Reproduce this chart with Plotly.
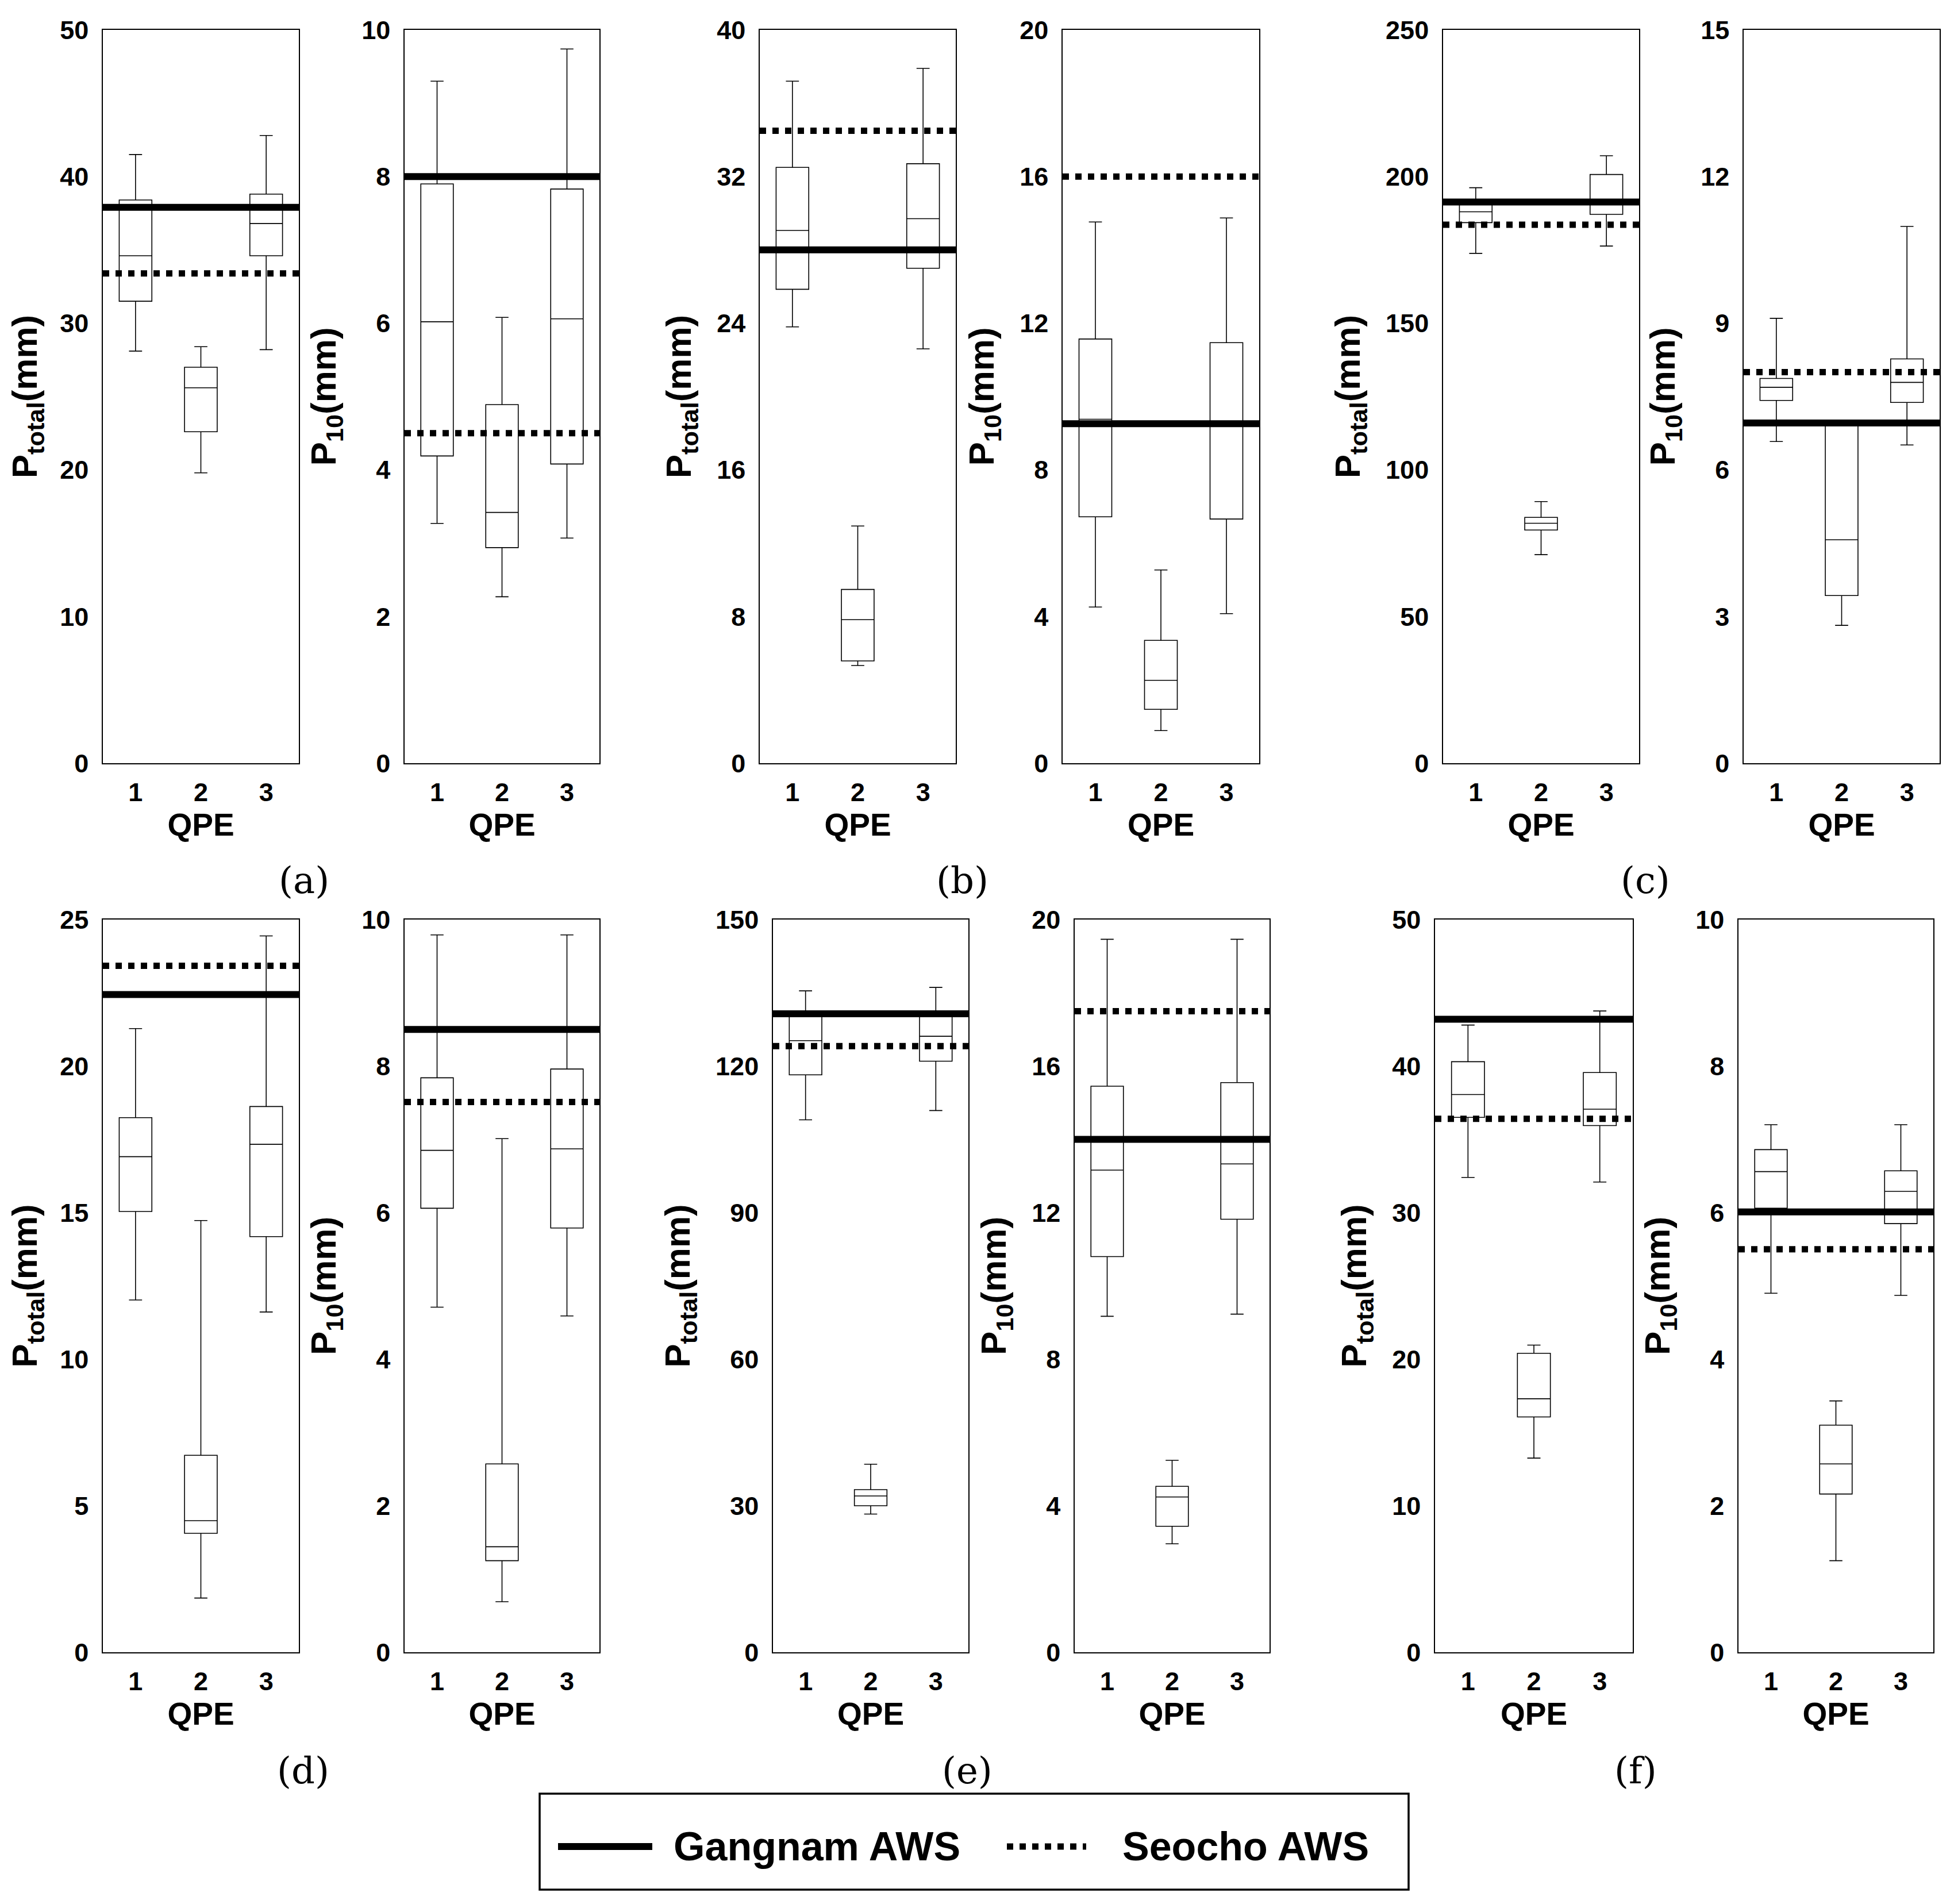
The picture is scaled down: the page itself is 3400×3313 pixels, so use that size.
import plotly.graph_objects as go
from plotly.subplots import make_subplots

qpe = [1, 2, 3]

# (a) P_total and P_10 : lower whisker, q1, median, q3, upper whisker
a_total_lo = [28.1, 19.8, 28.2]
a_total_q1 = [31.5, 22.6, 34.6]
a_total_med = [34.6, 25.6, 36.8]
a_total_q3 = [38.4, 27.0, 38.8]
a_total_hi = [41.5, 28.4, 42.8]

a_p10_lo = [3.27, 2.27, 3.07]
a_p10_q1 = [4.19, 2.94, 4.08]
a_p10_med = [6.02, 3.42, 6.06]
a_p10_q3 = [7.90, 4.89, 7.83]
a_p10_hi = [9.30, 6.08, 9.74]

# (b)
b_total_lo = [23.8, 5.33, 22.6]
b_total_q1 = [25.85, 5.58, 27.0]
b_total_med = [29.06, 7.83, 29.7]
b_total_q3 = [32.5, 9.48, 32.7]
b_total_hi = [37.2, 12.94, 37.9]

b_p10_lo = [4.26, 0.89, 4.08]
b_p10_q1 = [6.72, 1.47, 6.66]
b_p10_med = [9.38, 2.26, 9.3]
b_p10_q3 = [11.57, 3.35, 11.47]
b_p10_hi = [14.76, 5.27, 14.87]

# (c)
c_total_lo = [173.8, 71.1, 176.3]
c_total_q1 = [184.3, 79.5, 187.1]
c_total_med = [188.0, 81.8, 191.0]
c_total_q3 = [190.6, 83.8, 200.7]
c_total_hi = [196.2, 89.2, 207.1]

c_p10_lo = [6.58, 2.82, 6.51]
c_p10_q1 = [7.42, 3.43, 7.38]
c_p10_med = [7.69, 4.57, 7.79]
c_p10_q3 = [7.87, 6.95, 8.27]
c_p10_hi = [9.10, 6.98, 10.98]

# (d)
d_total_lo = [12.02, 1.85, 11.61]
d_total_q1 = [15.04, 4.06, 14.18]
d_total_med = [16.91, 4.49, 17.33]
d_total_q3 = [18.24, 6.72, 18.62]
d_total_hi = [21.28, 14.73, 24.44]

d_p10_lo = [4.71, 0.69, 4.59]
d_p10_q1 = [6.06, 1.25, 5.79]
d_p10_med = [6.85, 1.44, 6.87]
d_p10_q3 = [7.84, 2.57, 7.96]
d_p10_hi = [9.79, 7.01, 9.79]

# (e)
e_total_lo = [109.0, 28.3, 110.9]
e_total_q1 = [118.2, 30.0, 121.0]
e_total_med = [125.2, 32.0, 126.1]
e_total_q3 = [130.2, 33.3, 130.2]
e_total_hi = [135.4, 38.5, 136.1]

e_p10_lo = [9.17, 2.96, 9.23]
e_p10_q1 = [10.8, 3.44, 11.82]
e_p10_med = [13.16, 4.24, 13.33]
e_p10_q3 = [15.45, 4.53, 15.55]
e_p10_hi = [19.46, 5.24, 19.46]

# (f)
f_total_lo = [32.4, 13.25, 32.09]
f_total_q1 = [36.5, 16.06, 35.94]
f_total_med = [38.06, 17.3, 37.06]
f_total_q3 = [40.3, 20.4, 39.56]
f_total_hi = [42.8, 20.96, 43.76]

f_p10_lo = [4.90, 1.25, 4.87]
f_p10_q1 = [6.06, 2.16, 5.85]
f_p10_med = [6.56, 2.57, 6.29]
f_p10_q3 = [6.86, 3.10, 6.57]
f_p10_hi = [7.20, 3.43, 7.20]

# station observations, one per panel (a1, a2, b1, b2, ... f2)
gangnam = [37.9, 8.0, 28.0, 9.26, 191.3, 6.96, 22.44, 8.5, 130.7, 14.0, 43.2, 6.01]
seocho = [33.4, 4.5, 34.5, 16.0, 183.6, 8.0, 23.42, 7.51, 124.1, 17.5, 36.4, 5.5]

y_max = [50, 10, 40, 20, 250, 15, 25, 10, 150, 20, 50, 10]
y_step = [10, 2, 8, 4, 50, 3, 5, 2, 30, 4, 10, 2]
captions = ["(a)", "(b)", "(c)", "(d)", "(e)", "(f)"]

panels = [
    (a_total_lo, a_total_q1, a_total_med, a_total_q3, a_total_hi),
    (a_p10_lo, a_p10_q1, a_p10_med, a_p10_q3, a_p10_hi),
    (b_total_lo, b_total_q1, b_total_med, b_total_q3, b_total_hi),
    (b_p10_lo, b_p10_q1, b_p10_med, b_p10_q3, b_p10_hi),
    (c_total_lo, c_total_q1, c_total_med, c_total_q3, c_total_hi),
    (c_p10_lo, c_p10_q1, c_p10_med, c_p10_q3, c_p10_hi),
    (d_total_lo, d_total_q1, d_total_med, d_total_q3, d_total_hi),
    (d_p10_lo, d_p10_q1, d_p10_med, d_p10_q3, d_p10_hi),
    (e_total_lo, e_total_q1, e_total_med, e_total_q3, e_total_hi),
    (e_p10_lo, e_p10_q1, e_p10_med, e_p10_q3, e_p10_hi),
    (f_total_lo, f_total_q1, f_total_med, f_total_q3, f_total_hi),
    (f_p10_lo, f_p10_q1, f_p10_med, f_p10_q3, f_p10_hi),
]

# page geometry in pixels
W, H = 3400, 3313
OFF = 8  # default body margin of the html page
row_y = [(52, 1328), (1600, 2875)]
col_x = [
    [(179, 520), (704, 1043), (1322, 1663), (1849, 2191), (2511, 2852), (3034, 3375)],
    [(179, 520), (704, 1043), (1345, 1685), (1870, 2209), (2497, 2841), (3025, 3364)],
]
cap_xy = [(529, 1532), (1674, 1532), (2863, 1532), (527, 3081), (1683, 3081), (2846, 3081)]

SANS = "Liberation Sans"
SERIF = "DejaVu Serif"
DOT = "11px,11px"


def px(x):
    return (x - OFF) / W


def py(y):
    return 1 - (y - OFF) / H


fig = make_subplots(rows=2, cols=6)

for k, (lo, q1, med, q3, hi) in enumerate(panels):
    r, c = k // 6 + 1, k % 6 + 1
    fig.add_trace(go.Box(
        x=qpe, lowerfence=lo, q1=q1, median=med, q3=q3, upperfence=hi,
        width=0.5, whiskerwidth=0.4, boxpoints=False,
        line=dict(color="black", width=1.6), fillcolor="white",
        showlegend=False, hoverinfo="skip",
    ), row=r, col=c)
    fig.add_trace(go.Scatter(
        x=[0.5, 3.5], y=[gangnam[k]] * 2, mode="lines",
        line=dict(color="black", width=12), showlegend=False, name="Gangnam AWS",
    ), row=r, col=c)
    fig.add_trace(go.Scatter(
        x=[0.5, 3.5], y=[seocho[k]] * 2, mode="lines",
        line=dict(color="black", width=11, dash=DOT), showlegend=False, name="Seocho AWS",
    ), row=r, col=c)

    x0, x1 = col_x[r - 1][c - 1]
    y0, y1 = row_y[r - 1]
    ytitle = "P<sub>total</sub>(mm)" if k % 2 == 0 else "P<sub>10</sub>(mm)"
    common = dict(
        showline=True, mirror=True, linecolor="black", linewidth=1.6,
        showgrid=False, zeroline=False, ticks="", automargin=False,
        tickfont=dict(family=SANS, size=45, color="black", weight="bold"),
    )
    fig.update_xaxes(
        domain=[px(x0), px(x1)], range=[0.5, 3.5], tickvals=qpe,
        ticklabelstandoff=10,
        title=dict(text="QPE", font=dict(family=SANS, size=55, color="black", weight="bold"),
                   standoff=12),
        row=r, col=c, **common,
    )
    fig.update_yaxes(
        domain=[py(y1), py(y0)], range=[0, y_max[k]],
        tickvals=list(range(0, y_max[k] + 1, y_step[k])),
        ticklabelstandoff=14,
        title=dict(text=ytitle, font=dict(family=SANS, size=62, color="black", weight="bold"),
                   standoff=24),
        row=r, col=c, **common,
    )

for text, (cx, cy) in zip(captions, cap_xy):
    fig.add_annotation(x=px(cx), y=py(cy), xref="paper", yref="paper", text=text,
                       showarrow=False, xanchor="center", yanchor="middle",
                       font=dict(family=SERIF, size=64, color="black"))

# legend box drawn by hand so the line samples keep their long look
fig.add_shape(type="rect", xref="paper", yref="paper",
              x0=px(939), x1=px(2451), y0=py(3288), y1=py(3121),
              line=dict(color="black", width=3.5), fillcolor="white")
fig.add_shape(type="line", xref="paper", yref="paper",
              x0=px(971), x1=px(1135), y0=py(3213), y1=py(3213),
              line=dict(color="black", width=12))
fig.add_shape(type="line", xref="paper", yref="paper",
              x0=px(1752), x1=px(1890), y0=py(3213), y1=py(3213),
              line=dict(color="black", width=11, dash=DOT))
for text, lx in [("Gangnam AWS", 1170), ("Seocho AWS", 1951)]:
    fig.add_annotation(x=px(lx), y=py(3213), xref="paper", yref="paper", text=text,
                       showarrow=False, xanchor="left", yanchor="middle",
                       font=dict(family=SANS, size=70, color="black", weight="bold"))

fig.update_layout(
    template="none", width=W, height=H, autosize=False,
    margin=dict(l=0, r=0, t=0, b=0),
    paper_bgcolor="white", plot_bgcolor="white", showlegend=False,
    font=dict(family=SANS, size=40, color="black"),
)

fig.write_html("out.html")
